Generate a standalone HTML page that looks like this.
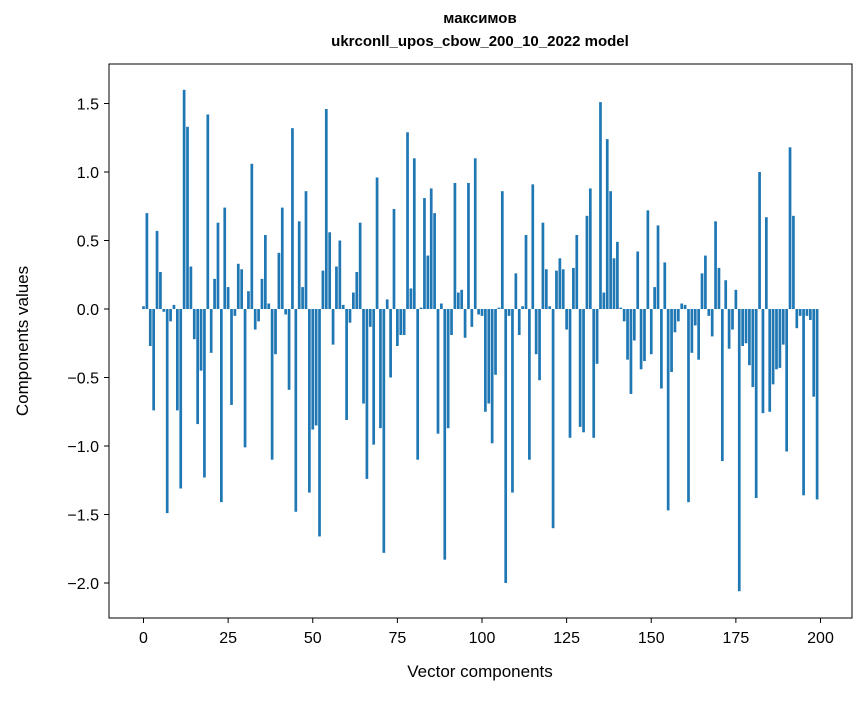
<!DOCTYPE html>
<html><head><meta charset="utf-8"><style>
body{margin:0;background:#fff}
svg text{font-family:"Liberation Sans","DejaVu Sans",sans-serif;fill:#000}
</style></head><body>
<svg id="chart" width="867" height="696" viewBox="0 0 867 696" xmlns="http://www.w3.org/2000/svg">
<rect width="867" height="696" fill="#fff"/>
<text x="480" y="28" text-anchor="middle" font-size="15" font-weight="bold" transform="translate(0,-5)">максимов</text>
<text x="480" y="51" text-anchor="middle" font-size="15" font-weight="bold" transform="translate(0,-5)">ukrconll_upos_cbow_200_10_2022 model</text>
<g id="bars"></g>
<g id="axes"></g>
<rect x="109" y="64" width="743" height="554" fill="none" stroke="#000" stroke-width="1"/>
<text x="480" y="677" text-anchor="middle" font-size="17">Vector components</text>
<text transform="translate(28,341) rotate(-90)" text-anchor="middle" font-size="17">Components values</text>
</svg>
<script>
const values = [0.02,0.70,-0.27,-0.74,0.57,0.27,-0.02,-1.49,-0.09,0.03,
-0.74,-1.31,1.60,1.33,0.31,-0.22,-0.84,-0.45,-1.23,1.42,
-0.32,0.22,0.63,-1.41,0.74,0.16,-0.70,-0.05,0.33,0.29,
-1.01,0.13,1.06,-0.15,-0.09,0.22,0.54,0.04,-1.10,-0.33,
0.41,0.74,-0.04,-0.59,1.32,-1.48,0.64,0.16,0.86,-1.34,
-0.88,-0.85,-1.66,0.28,1.46,0.56,-0.26,0.31,0.50,0.03,
-0.81,-0.10,0.12,0.27,0.63,-0.69,-1.24,-0.13,-0.99,0.96,
-0.87,-1.78,0.07,-0.50,0.73,-0.27,-0.19,-0.19,1.29,0.15,
1.10,-1.10,0.01,0.81,0.39,0.88,0.70,-0.91,0.04,-1.83,
-0.87,-0.19,0.92,0.12,0.14,-0.21,0.92,-0.13,1.10,-0.04,
-0.05,-0.75,-0.69,-0.98,-0.48,0.01,0.86,-2.00,-0.05,-1.34,
0.26,-0.19,0.02,0.54,-1.10,0.91,-0.33,-0.52,0.63,0.29,
0.02,-1.60,0.28,0.37,0.29,-0.15,-0.94,0.30,0.54,-0.86,
-0.90,0.68,0.88,-0.94,-0.40,1.51,0.12,1.24,0.86,0.37,
0.49,0.01,-0.09,-0.37,-0.62,-0.23,0.42,-0.44,-0.38,0.72,
-0.33,0.16,0.61,-0.58,0.34,-1.47,-0.46,-0.17,-0.09,0.04,
0.03,-1.41,-0.32,-0.12,-0.37,0.26,0.39,-0.05,-0.20,0.64,
0.30,-1.11,0.21,-0.29,-0.15,0.14,-2.06,-0.27,-0.25,-0.41,
-0.57,-1.38,1.00,-0.76,0.67,-0.75,-0.55,-0.44,-0.43,-0.26,
-1.04,1.18,0.68,-0.14,-0.05,-1.36,-0.05,-0.08,-0.64,-1.39];
const xTicks = [0,25,50,75,100,125,150,175,200];
const yTicks = [-2.0,-1.5,-1.0,-0.5,0.0,0.5,1.0,1.5];
const yTickLabels = ["\u22122.0","\u22121.5","\u22121.0","\u22120.5","0.0","0.5","1.0","1.5"];

const NS="http://www.w3.org/2000/svg";
function xs(v){return 143.5+v*3.385;}
function ys(v){return 309-v*137;}
const bars=document.getElementById('bars');
values.forEach((v,i)=>{
  const r=document.createElementNS(NS,'rect');
  
  
  const y0=ys(0), y1=ys(v);
  r.setAttribute('x',xs(i-0.4));
  r.setAttribute('width',0.8*3.385);
  r.setAttribute('y',Math.min(y0,y1));
  r.setAttribute('height',Math.abs(y1-y0));
  r.setAttribute('fill','#1f77b4');
  bars.appendChild(r);
});
const axes=document.getElementById('axes');
xTicks.forEach(t=>{
  const l=document.createElementNS(NS,'line');
  
  
  l.setAttribute('x1',xs(t));l.setAttribute('x2',xs(t));
  l.setAttribute('y1',618);l.setAttribute('y2',623);
  l.setAttribute('stroke','#000');
  axes.appendChild(l);
  const tx=document.createElementNS(NS,'text');
  
  
  tx.setAttribute('x',xs(t));tx.setAttribute('y',643);
  tx.setAttribute('text-anchor','middle');tx.setAttribute('font-size','16');
  tx.textContent=t;
  axes.appendChild(tx);
});
yTicks.forEach((t,i)=>{
  const l=document.createElementNS(NS,'line');
  
  
  l.setAttribute('x1',104);l.setAttribute('x2',109);
  l.setAttribute('y1',ys(t));l.setAttribute('y2',ys(t));
  l.setAttribute('stroke','#000');
  axes.appendChild(l);
  const tx=document.createElementNS(NS,'text');
  
  
  tx.setAttribute('x',99);tx.setAttribute('y',ys(t)+6);
  tx.setAttribute('text-anchor','end');tx.setAttribute('font-size','16');
  tx.textContent=yTickLabels[i];
  axes.appendChild(tx);
});
</script>
</body></html>
